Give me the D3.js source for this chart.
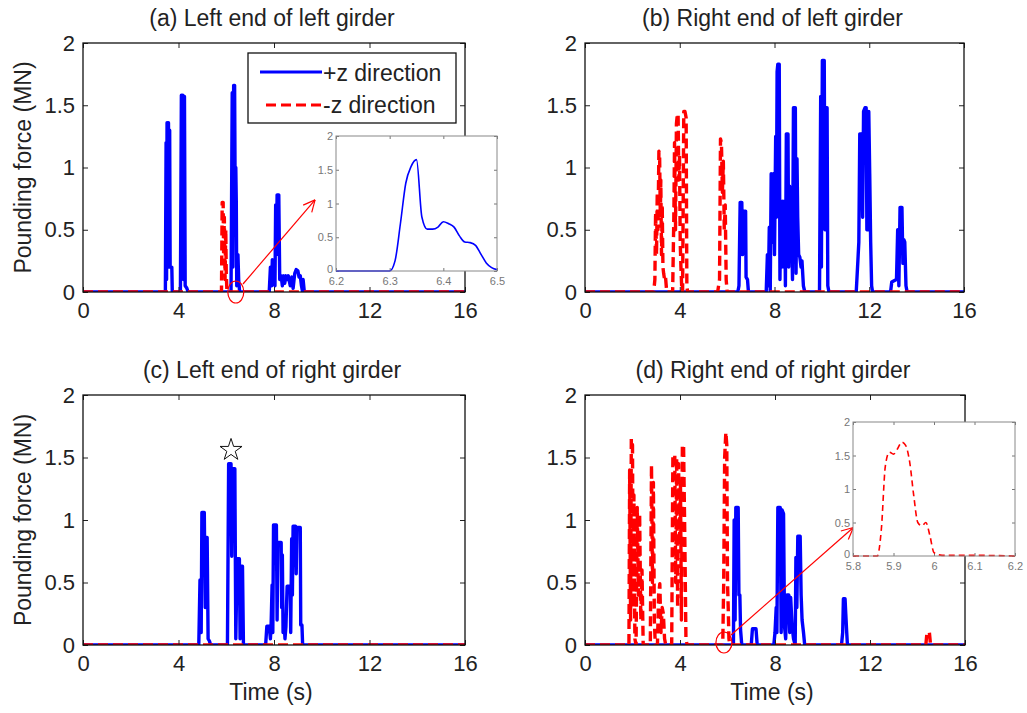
<!DOCTYPE html>
<html><head><meta charset="utf-8">
<script src="https://cdn.jsdelivr.net/npm/d3@7"></script>
<style>body{margin:0;background:#fff;} svg text{font-family:"Liberation Sans",Arial,sans-serif;}</style>
</head><body><svg id="chart" width="1027" height="713"></svg>
<script>
// ---------- data ----------
const xTicks = [0, 4, 8, 12, 16];
const yTicks = [0, 0.5, 1, 1.5, 2];
const titles = ["(a) Left end of left girder", "(b) Right end of left girder",
                "(c) Left end of right girder", "(d) Right end of right girder"];
const legendLabels = ["+z direction", "-z direction"];
const xLabel = "Time (s)";
const yLabel = "Pounding force (MN)";

// (a) Left end of left girder  [time s, force MN]
const aPos = [[0,0],[3.45,0],[3.48,1.2],[3.50,0.1],[3.52,1.36],[3.55,0.2],[3.58,1.36],[3.61,0.3],[3.63,1.3],[3.65,0.2],[3.72,0.2],[3.74,0],
  [4.08,0],[4.12,1.58],[4.15,0.2],[4.18,1.58],[4.21,0.1],[4.25,1.57],[4.28,0.05],[4.35,0.03],[4.4,0],
  [6.2,0],[6.25,1.6],[6.28,0.2],[6.31,1.66],[6.35,1.66],[6.37,0.9],[6.40,1.0],[6.42,0.73],[6.44,0.05],[6.47,0.3],[6.49,0.3],[6.52,0.1],[6.56,0],
  [7.8,0],[7.85,0.2],[7.9,0.05],[7.93,0.26],[7.97,0.1],[8.0,0.2],[8.04,0.05],[8.07,0.7],[8.10,0.3],[8.13,0.78],[8.2,0.78],[8.24,0.1],[8.3,0.13],[8.35,0.05],[8.4,0.13],[8.45,0.07],[8.5,0.13],[8.55,0.1],[8.6,0.13],[8.68,0.05],[8.75,0.12],[8.8,0.03],[8.87,0.15],[8.93,0.18],[9.0,0.17],[9.05,0.12],[9.1,0.13],[9.15,0.05],[9.2,0.0],[9.22,0.1],[9.27,0],[16,0]];
const aNeg = [[0,0],[5.8,0],[5.83,0.72],[5.87,0.72],[5.89,0.3],[5.92,0.6],[5.95,0.1],[5.98,0.5],[6.0,0.15],[6.03,0],[16,0]];

// (b) Right end of left girder
const bPos = [[0,0],[6.45,0],[6.5,0.05],[6.55,0.72],[6.62,0.72],[6.65,0.3],[6.7,0.65],[6.78,0.65],[6.8,0.12],[6.86,0.1],[6.9,0],
  [7.65,0],[7.7,0.3],[7.74,0.05],[7.78,0.52],[7.82,0.0],[7.86,0.95],[7.9,0.4],[7.95,0.95],[8.0,0.3],[8.05,1.25],[8.08,0.6],[8.11,1.77],[8.14,1.83],[8.2,1.83],[8.23,0.1],[8.27,0.73],[8.31,0.2],[8.35,0.73],[8.39,0.2],[8.43,0.73],[8.46,0.05],[8.5,1.27],[8.57,1.27],[8.6,0.2],[8.64,0.85],[8.68,0.4],[8.72,0.5],[8.76,0.1],[8.8,1.48],[8.88,1.48],[8.91,0.15],[8.95,1.07],[8.98,0.6],[9.02,0.3],[9.07,0.28],[9.12,0.2],[9.16,0.25],[9.22,0.05],[9.28,0],
  [9.9,0],[9.95,1.57],[9.98,0.2],[10.02,1.86],[10.1,1.86],[10.13,0.5],[10.16,1.48],[10.22,1.48],[10.25,0.05],[10.3,0],
  [11.45,0],[11.52,0.25],[11.56,0.4],[11.6,1.27],[11.68,1.27],[11.72,0.6],[11.76,1.45],[11.82,1.48],[11.87,1.48],[11.9,0.5],[11.95,0.5],[11.98,1.45],[12.02,0.95],[12.06,0.4],[12.1,0.05],[12.14,0],
  [12.9,0],[12.95,0.08],[13.15,0.1],[13.2,0.5],[13.25,0.05],[13.3,0.68],[13.38,0.68],[13.42,0.23],[13.46,0.42],[13.5,0.4],[13.55,0.05],[13.6,0],[16,0]];
const bNeg = [[0,0],[2.9,0],[2.95,0.1],[2.98,0.64],[3.02,0.3],[3.05,0.8],[3.08,0.5],[3.12,1.13],[3.15,1.1],[3.18,0.6],[3.2,0.9],[3.23,0.3],[3.26,0.7],[3.29,0.2],[3.32,0.15],[3.36,0.1],[3.4,0.12],[3.45,0],
  [3.7,0],[3.75,0.6],[3.78,1.2],[3.82,0.5],[3.86,1.35],[3.9,1.43],[3.93,1.43],[3.96,0.9],[3.99,1.1],[4.02,0.4],[4.05,0.2],[4.08,0.05],[4.12,0],[4.17,1.45],[4.22,1.45],[4.27,1.4],[4.3,0.05],[4.33,0],
  [5.6,0],[5.68,0.1],[5.72,1.23],[5.76,1.2],[5.8,0.8],[5.84,1.05],[5.88,0.5],[5.92,0.7],[5.96,0.1],[6.0,0],[16,0]];

// (c) Left end of right girder
const cPos = [[0,0],[4.85,0],[4.9,0.52],[4.95,0.1],[4.98,1.06],[5.08,1.06],[5.12,0.3],[5.16,0.86],[5.2,0.86],[5.24,0.05],[5.3,0.03],[5.34,0],
  [6.05,0],[6.1,1.45],[6.2,1.45],[6.23,0.71],[6.26,1.41],[6.36,1.41],[6.4,0.05],[6.44,0.5],[6.47,0.69],[6.55,0.69],[6.58,0.05],[6.62,0.63],[6.68,0.63],[6.72,0],
  [7.65,0],[7.7,0.15],[7.8,0.15],[7.85,0.05],[7.88,0.17],[7.92,0.48],[7.95,0.1],[7.98,0.96],[8.1,0.96],[8.13,0.2],[8.16,0.82],[8.3,0.82],[8.32,0.3],[8.35,0.72],[8.38,0.1],[8.42,0.2],[8.46,0.05],[8.5,0.15],[8.55,0.47],[8.68,0.47],[8.7,0.1],[8.74,0.85],[8.77,0.4],[8.8,0.95],[8.9,0.95],[8.93,0.57],[8.96,0.94],[9.1,0.94],[9.12,0.16],[9.17,0.16],[9.2,0],[16,0]];
const cNeg = [[0,0],[16,0]];

// (d) Right end of right girder
const dPos = [[0,0],[6.25,0],[6.28,1.0],[6.32,0.2],[6.35,1.1],[6.45,1.1],[6.48,0.4],[6.52,0.4],[6.55,0.12],[6.6,0],
  [7.0,0],[7.05,0.13],[7.2,0.13],[7.25,0],
  [7.95,0],[8.0,0.1],[8.05,0.3],[8.08,0.1],[8.12,1.1],[8.22,1.1],[8.26,0.1],[8.3,1.08],[8.36,1.05],[8.4,0.15],[8.45,0.05],[8.5,0.4],[8.58,0.4],[8.62,0.1],[8.66,0.38],[8.72,0.15],[8.78,0.05],[8.85,0],
  [8.88,0.7],[8.92,0.3],[8.96,0.87],[9.06,0.87],[9.1,0.4],[9.14,0.2],[9.2,0.1],[9.25,0],
  [10.8,0],[10.85,0.1],[10.88,0.37],[10.95,0.37],[10.98,0.25],[11.02,0.1],[11.05,0],[16,0]];
const dNeg = [[0,0],[1.85,0],[1.88,1.4],[1.92,0.2],[1.95,1.65],[2.0,1.6],[2.03,0.3],[2.06,1.2],[2.1,0.05],[2.15,0],[2.2,1.1],[2.25,0.4],[2.3,1.05],[2.35,0.2],[2.4,0.6],[2.45,0],
  [2.75,0],[2.8,1.44],[2.84,0.5],[2.88,1.3],[2.92,0.2],[2.96,0],
  [3.05,0],[3.1,0.4],[3.15,0.49],[3.2,0.1],[3.25,0.3],[3.3,0.25],[3.35,0.05],[3.4,0],
  [3.65,0],[3.7,1.52],[3.78,1.52],[3.82,0.5],[3.86,1.5],[3.9,0.3],[3.94,1.45],[3.98,0.8],[4.02,1.3],[4.06,0.2],[4.1,1.6],[4.15,1.6],[4.2,0.9],[4.25,0.05],[4.3,0],
  [5.8,0],[5.84,0.5],[5.88,1.5],[5.93,1.7],[5.97,1.6],[6.0,0.5],[6.03,0.3],[6.06,0.05],[6.1,0],
  [14.35,0],[14.4,0.1],[14.5,0.1],[14.55,0],[16,0]];

// insets (zoomed views)
const insetAXTicks = [6.2, 6.3, 6.4, 6.5];
const insetA = [[6.2,0],[6.3,0],[6.31,0.15],[6.32,0.7],[6.33,1.3],[6.34,1.55],[6.35,1.65],[6.36,0.8],[6.37,0.62],[6.38,0.62],[6.39,0.65],[6.40,0.73],[6.41,0.7],[6.42,0.65],[6.43,0.52],[6.44,0.43],[6.45,0.42],[6.46,0.38],[6.47,0.25],[6.48,0.12],[6.49,0.05],[6.5,0.02]];
const insetDXTicks = [5.8, 5.9, 6, 6.1, 6.2];
const insetD = [[5.8,0],[5.86,0],[5.87,0.4],[5.88,1.35],[5.89,1.55],[5.90,1.52],[5.91,1.6],[5.92,1.7],[5.93,1.65],[5.94,1.4],[5.95,0.9],[5.96,0.5],[5.97,0.45],[5.98,0.5],[5.99,0.3],[6.0,0.05],[6.02,0.01],[6.1,0.01],[6.2,0]];

// ---------- drawing ----------
const svg = d3.select("#chart");
const FONT = "'Liberation Sans', Arial, sans-serif";
const BLUE = "#0000ff", RED = "#ff0000", INK = "#222";

const panels = [
  {box:{x0:83, x1:465, y0:43, y1:292},  title:titles[0], pos:aPos, neg:aNeg, yl:true,  xl:false},
  {box:{x0:585,x1:964, y0:43, y1:292},  title:titles[1], pos:bPos, neg:bNeg, yl:false, xl:false},
  {box:{x0:83, x1:465, y0:395,y1:645},  title:titles[2], pos:cPos, neg:cNeg, yl:true,  xl:true},
  {box:{x0:585,x1:965, y0:395,y1:645},  title:titles[3], pos:dPos, neg:dNeg, yl:false, xl:true}
];

function styleAxis(g, size, color) {
  g.select(".domain").remove();
  g.selectAll("line").attr("stroke", color).attr("stroke-width", 1);
  g.selectAll("text").attr("font-size", size).attr("font-family", FONT).attr("fill", color);
}

const scales = [];
panels.forEach((p, i) => {
  const b = p.box;
  const x = d3.scaleLinear().domain([0,16]).range([b.x0, b.x1]);
  const y = d3.scaleLinear().domain([0,2]).range([b.y1, b.y0]);
  scales.push({x, y});
  const g = svg.append("g");
  g.append("clipPath").attr("id", "clip"+i).append("rect")
    .attr("x", b.x0).attr("y", b.y0-4).attr("width", b.x1-b.x0).attr("height", b.y1-b.y0+4);
  const line = d3.line().x(d => x(d[0])).y(d => y(d[1]));
  const plot = g.append("g").attr("clip-path", `url(#clip${i})`);
  plot.append("path").datum(p.pos).attr("d", line).attr("fill","none")
    .attr("stroke", BLUE).attr("stroke-width", 3.4).attr("stroke-linejoin","round");
  plot.append("path").datum(p.neg).attr("d", line).attr("fill","none")
    .attr("stroke", RED).attr("stroke-width", 3.4).attr("stroke-dasharray","10,5").attr("stroke-linejoin","round");

  const fmt = d => String(d);
  const ax = g.append("g").attr("transform", `translate(0,${b.y1})`)
    .call(d3.axisBottom(x).tickValues(xTicks).tickFormat(fmt).tickSizeInner(-5).tickSizeOuter(0).tickPadding(10));
  styleAxis(ax, 22, INK);
  const axT = g.append("g").attr("transform", `translate(0,${b.y0})`)
    .call(d3.axisTop(x).tickValues(xTicks).tickFormat("").tickSizeInner(-5).tickSizeOuter(0));
  styleAxis(axT, 22, INK);
  const ay = g.append("g").attr("transform", `translate(${b.x0},0)`)
    .call(d3.axisLeft(y).tickValues(yTicks).tickFormat(fmt).tickSizeInner(-5).tickSizeOuter(0).tickPadding(8));
  styleAxis(ay, 22, INK);
  const ayR = g.append("g").attr("transform", `translate(${b.x1},0)`)
    .call(d3.axisRight(y).tickValues(yTicks).tickFormat("").tickSizeInner(-5).tickSizeOuter(0));
  styleAxis(ayR, 22, INK);

  g.append("rect").attr("x", b.x0).attr("y", b.y0).attr("width", b.x1-b.x0).attr("height", b.y1-b.y0)
    .attr("fill","none").attr("stroke","#111").attr("stroke-width",1.3);

  g.append("text").attr("x", (b.x0+b.x1)/2 - 2).attr("y", b.y0 - 17)
    .attr("text-anchor","middle").attr("font-size",23).attr("fill",INK).text(p.title);
  if (p.yl) {
    g.append("text").attr("transform", `translate(31,${(b.y0+b.y1)/2}) rotate(-90)`)
      .attr("text-anchor","middle").attr("font-size",23).attr("fill",INK).text(yLabel);
  }
  if (p.xl) {
    g.append("text").attr("x", (b.x0+b.x1)/2 - 3).attr("y", b.y1 + 55)
      .attr("text-anchor","middle").attr("font-size",23).attr("fill",INK).text(xLabel);
  }
});

// legend in panel (a)
const lg = svg.append("g");
lg.append("rect").attr("x",248).attr("y",53).attr("width",208).attr("height",70)
  .attr("fill","#fff").attr("stroke","#111").attr("stroke-width",1.3);
lg.append("line").attr("x1",260).attr("x2",322).attr("y1",72).attr("y2",72)
  .attr("stroke",BLUE).attr("stroke-width",3);
lg.append("line").attr("x1",266).attr("x2",322).attr("y1",105).attr("y2",105)
  .attr("stroke",RED).attr("stroke-width",3).attr("stroke-dasharray","10,5");
lg.append("text").attr("x",323).attr("y",81).attr("font-size",23).attr("fill",INK).text(legendLabels[0]);
lg.append("text").attr("x",323).attr("y",113).attr("font-size",23).attr("fill",INK).text(legendLabels[1]);

// annotations: circles + arrows pointing to insets
function annot(s, center, rx, ry, from, to) {
  const g = svg.append("g");
  const cx = s.x(center[0]), cy = s.y(center[1]);
  g.append("ellipse").attr("cx",cx).attr("cy",cy).attr("rx",rx).attr("ry",ry)
    .attr("fill","none").attr("stroke",RED).attr("stroke-width",1.2);
  const x1 = from[0], y1 = from[1], x2 = s.x(to[0]), y2 = s.y(to[1]);
  g.append("line").attr("x1",x1).attr("y1",y1).attr("x2",x2).attr("y2",y2)
    .attr("stroke",RED).attr("stroke-width",1.2);
  const ang = Math.atan2(y2-y1, x2-x1), L = 13, w = 0.45;
  [ang+Math.PI-w, ang+Math.PI+w].forEach(a => {
    g.append("line").attr("x1",x2).attr("y1",y2)
      .attr("x2",x2+L*Math.cos(a)).attr("y2",y2+L*Math.sin(a))
      .attr("stroke",RED).attr("stroke-width",1.2);
  });
}
annot(scales[0], [6.4, 0.0], 8, 11, [243, 284], [9.72, 0.74]);
annot(scales[3], [5.85, 0.02], 8, 10.5, [731, 635], [11.3, 0.94]);

// star in panel (c)
svg.append("path").attr("d", d3.symbol(d3.symbolStar, 150)())
  .attr("transform", `translate(${scales[2].x(6.2)},${scales[2].y(1.56)})`)
  .attr("fill","#fff").attr("stroke","#111").attr("stroke-width",1);

// insets
function inset(box, xdom, xt, data, color, dashed) {
  const g = svg.append("g");
  const x = d3.scaleLinear().domain(xdom).range([box.x0, box.x1]);
  const y = d3.scaleLinear().domain([0,2]).range([box.y1, box.y0]);
  g.append("rect").attr("x",box.x0).attr("y",box.y0).attr("width",box.x1-box.x0).attr("height",box.y1-box.y0)
    .attr("fill","#fff");
  const grey = "#777";
  const fmt = d => String(d);
  const ax = g.append("g").attr("transform",`translate(0,${box.y1})`)
    .call(d3.axisBottom(x).tickValues(xt).tickFormat(fmt).tickSizeInner(-3).tickSizeOuter(0).tickPadding(6));
  styleAxis(ax, 11, grey);
  const axT = g.append("g").attr("transform",`translate(0,${box.y0})`)
    .call(d3.axisTop(x).tickValues(xt).tickFormat("").tickSizeInner(-3).tickSizeOuter(0));
  styleAxis(axT, 11, grey);
  const ay = g.append("g").attr("transform",`translate(${box.x0},0)`)
    .call(d3.axisLeft(y).tickValues(yTicks).tickFormat(fmt).tickSizeInner(-3).tickSizeOuter(0).tickPadding(3));
  styleAxis(ay, 11, grey);
  ay.selectAll("text").attr("dy", d => d === 0 ? "0.1em" : "0.32em");
  const ayR = g.append("g").attr("transform",`translate(${box.x1},0)`)
    .call(d3.axisRight(y).tickValues(yTicks).tickFormat("").tickSizeInner(-3).tickSizeOuter(0));
  styleAxis(ayR, 11, grey);
  const line = d3.line().curve(d3.curveMonotoneX).x(d => x(d[0])).y(d => y(d[1]));
  const path = g.append("path").datum(data).attr("d", line).attr("fill","none")
    .attr("stroke", color).attr("stroke-width", 1.6);
  if (dashed) path.attr("stroke-dasharray","6,4");
  g.append("rect").attr("x",box.x0).attr("y",box.y0).attr("width",box.x1-box.x0).attr("height",box.y1-box.y0)
    .attr("fill","none").attr("stroke","#888").attr("stroke-width",1);
}
inset({x0:336, x1:497, y0:136, y1:271}, [6.2, 6.5], insetAXTicks, insetA, BLUE, false);
inset({x0:853, x1:1015, y0:422, y1:556}, [5.8, 6.2], insetDXTicks, insetD, RED, true);
</script>
</body></html>
